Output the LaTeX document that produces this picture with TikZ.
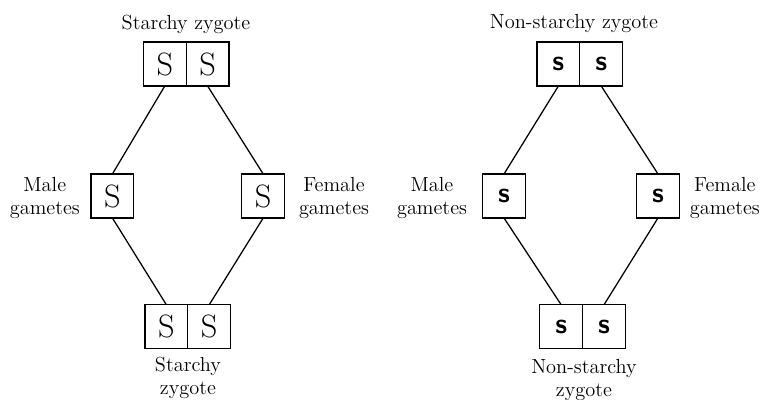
\documentclass[tikz,border=0pt]{standalone}
\usepackage{tikz}
\usetikzlibrary{positioning}

\tikzset{
  cell/.style={draw,line width=0.9pt,minimum width=1.07cm,minimum height=1.1cm,inner sep=0pt,outer sep=0pt},
  bigS/.style={cell,font=\fontsize{23}{23}\selectfont},
  smalls/.style={cell,font=\sffamily\bfseries\fontsize{20}{20}\selectfont},
  lbl/.style={font=\fontsize{14.5}{16}\selectfont,align=center},
  link/.style={line width=0.9pt}
}

\begin{document}
\begin{tikzpicture}
\useasboundingbox (0,0) rectangle (19.1,10);

% Starchy cross
\begin{scope}[xshift=0cm]
\node[lbl] (sTop) at (4.65,9.4) {Starchy zygote};
\node[bigS] (sTL) at (4.12,8.4) {S};
\node[bigS] (sTR) at (5.19,8.4) {S};
\node[bigS] (sMale) at (2.81,5.1) {S};
\node[bigS] (sFemale) at (6.58,5.1) {S};
\node[bigS] (sBL) at (4.16,1.83) {S};
\node[bigS] (sBR) at (5.23,1.83) {S};
\node[lbl] (sMaleLbl) at (1.12,5.05) {Male\\gametes};
\node[lbl] (sFemaleLbl) at (8.35,5.05) {Female\\gametes};
\node[lbl] (sBot) at (4.7,0.55) {Starchy\\zygote};
\draw[link] (sTL.south) -- (sMale.north);
\draw[link] (sTR.south) -- (sFemale.north);
\draw[link] (sMale.south) -- (sBL.north);
\draw[link] (sFemale.south) -- (sBR.north);
\end{scope}

% Non-starchy cross
\begin{scope}[xshift=9.8cm]
\node[lbl] (nTop) at (4.55,9.4) {Non-starchy zygote};
\node[smalls] (nTL) at (4.16,8.4) {s};
\node[smalls] (nTR) at (5.23,8.4) {s};
\node[smalls] (nMale) at (2.8,5.1) {s};
\node[smalls] (nFemale) at (6.65,5.1) {s};
\node[smalls] (nBL) at (4.23,1.83) {s};
\node[smalls] (nBR) at (5.3,1.83) {s};
\node[lbl] (nMaleLbl) at (1.0,5.05) {Male\\gametes};
\node[lbl] (nFemaleLbl) at (8.32,5.05) {Female\\gametes};
\node[lbl] (nBot) at (4.8,0.5) {Non-starchy\\zygote};
\draw[link] (nTL.south) -- (nMale.north);
\draw[link] (nTR.south) -- (nFemale.north);
\draw[link] (nMale.south) -- (nBL.north);
\draw[link] (nFemale.south) -- (nBR.north);
\end{scope}

\end{tikzpicture}
\end{document}
